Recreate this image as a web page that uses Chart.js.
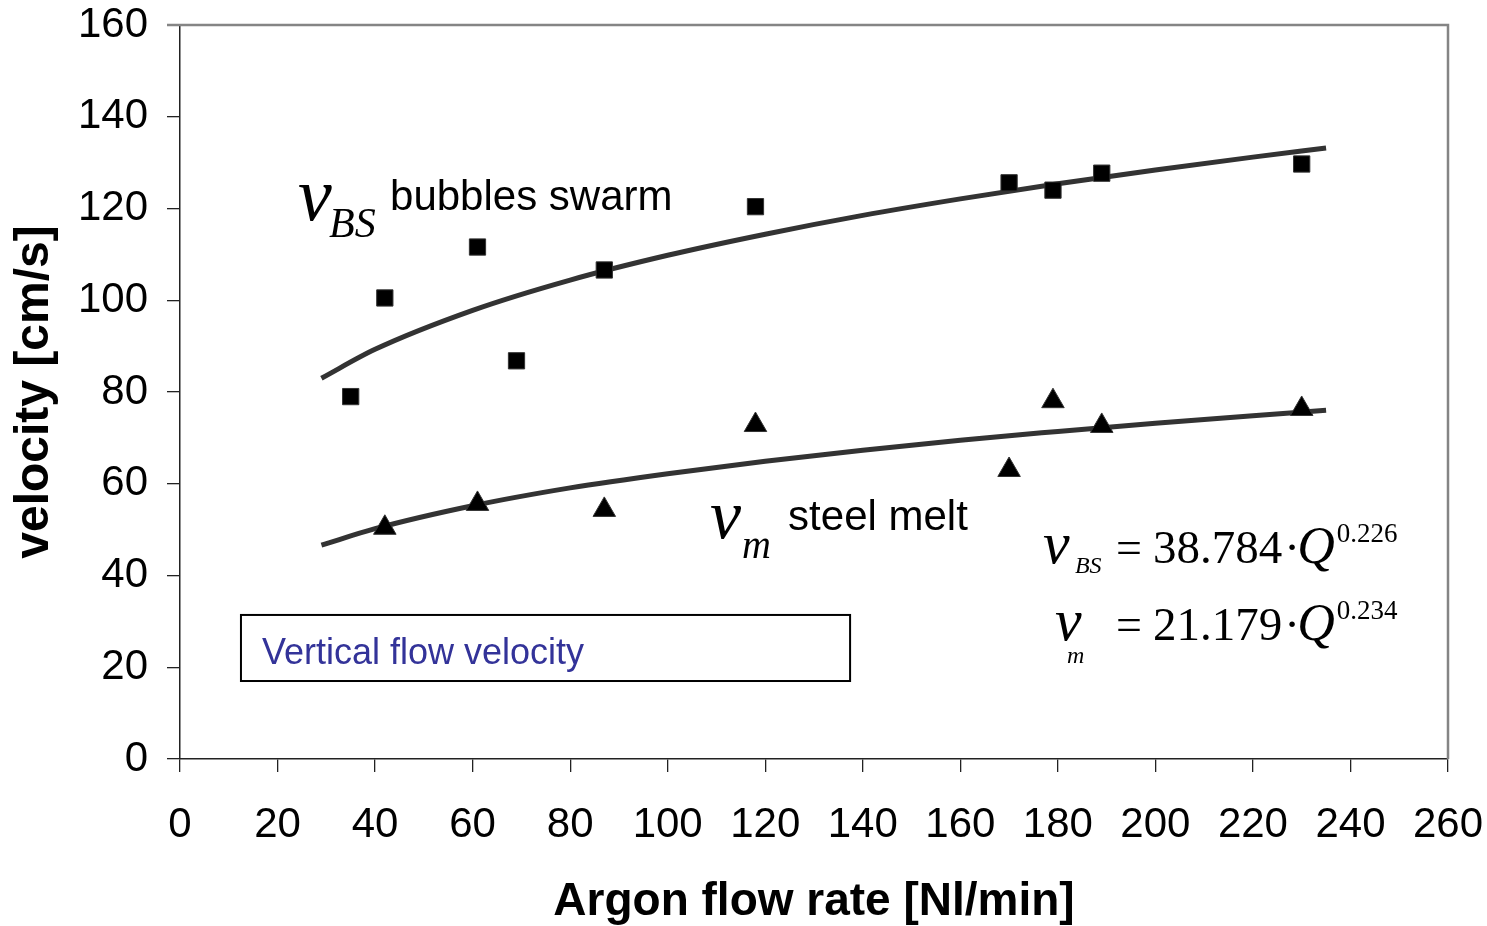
<!DOCTYPE html>
<html><head><meta charset="utf-8">
<script src="https://cdn.jsdelivr.net/npm/chart.js@4/dist/chart.umd.min.js"></script>
<style>html,body{margin:0;padding:0;background:#fff;overflow:hidden;}</style>
</head><body>
<canvas id="c" width="1487" height="926" style="width:1487px;height:926px;display:block"></canvas>
<script>
// ---- data ----
const flowBubbles = [35, 42, 61, 69, 87, 118, 170, 179, 189, 230];
const velBubbles  = [79.0, 100.5, 111.6, 86.8, 106.6, 120.4, 125.6, 124.0, 127.7, 129.7];
const flowMelt    = [42, 61, 87, 118, 170, 179, 189, 230];
const velMelt     = [50.4, 55.6, 54.3, 72.8, 63.0, 78.0, 72.6, 76.3];
const fitFlow     = [29, 40, 60, 80, 100, 120, 140, 160, 180, 200, 220, 235];
const fitBubbles  = [83.0, 89.3, 97.8, 104.4, 109.8, 114.4, 118.5, 122.1, 125.4, 128.4, 131.2, 133.2];
const fitMelt     = [46.6, 50.2, 55.2, 59.1, 62.2, 64.9, 67.3, 69.5, 71.4, 73.2, 74.8, 76.0];
const xTickValues = [0, 20, 40, 60, 80, 100, 120, 140, 160, 180, 200, 220, 240, 260];
const yTickValues = [0, 20, 40, 60, 80, 100, 120, 140, 160];
const xTitle = 'Argon flow rate [Nl/min]';
const yTitle = 'velocity [cm/s]';
const boxLabel = 'Vertical flow velocity';
const eqBubbles = {sub: 'BS', coef: '38.784', exp: '0.226'};
const eqMelt = {sub: 'm', coef: '21.179', exp: '0.234'};

const pts = (xs, ys) => xs.map((x, i) => ({x, y: ys[i]}));

const SANS = '"Liberation Sans", Arial, sans-serif';
const SERIF = '"Liberation Serif", "Times New Roman", serif';

const annotations = {
  id: 'annotations',
  afterDraw(chart) {
    const {ctx, chartArea: a, scales: {x, y}} = chart;
    ctx.save();
    // gray frame top & right
    ctx.strokeStyle = '#858585';
    ctx.lineWidth = 2.5;
    ctx.beginPath();
    ctx.moveTo(a.left - 13, a.top);
    ctx.lineTo(a.right, a.top);
    ctx.lineTo(a.right, a.bottom);
    ctx.stroke();

    const T = (txt, font, px, py, color) => {
      ctx.font = font; ctx.fillStyle = color || '#000';
      ctx.textAlign = 'left'; ctx.textBaseline = 'alphabetic';
      ctx.fillText(txt, px, py);
      return ctx.measureText(txt).width;
    };
    // v_BS bubbles swarm
    let ax = x.getPixelForValue(24.2), ay = y.getPixelForValue(117.5);
    T('v', 'italic 76px ' + SERIF, ax, ay);
    T('BS', 'italic 42px ' + SERIF, ax + 31, ay + 17);
    T('bubbles swarm', '42px ' + SANS, ax + 92, ay - 10);
    // v_m steel melt
    ax = x.getPixelForValue(108.7); ay = y.getPixelForValue(48.2);
    T('v', 'italic 70px ' + SERIF, ax, ay);
    T('m', 'italic 40px ' + SERIF, ax + 32, ay + 20);
    T('steel melt', '42px ' + SANS, ax + 78, ay - 8);
    // equations: anchored at the '=' sign
    const eq = (ex, ey, vdx, subDx, subDy, e) => {
      const px = x.getPixelForValue(ex), py = y.getPixelForValue(ey);
      T('v', 'italic 60px ' + SERIF, px + vdx, py);
      T(e.sub, 'italic 24px ' + SERIF, px + vdx + subDx, py + subDy);
      T('=', '46px ' + SERIF, px, py);
      const w = T(e.coef, '47px ' + SERIF, px + 37, py);
      T('\u00B7', '47px ' + SERIF, px + 37 + w + 2, py);
      const wq = T('Q', 'italic 52px ' + SERIF, px + 37 + w + 15, py);
      T(e.exp, '27px ' + SERIF, px + 37 + w + 15 + wq + 2, py - 21);
    };
    eq(191.9, 42.7, -73, 32, 10, eqBubbles);
    eq(191.9, 26.0, -61, 12, 23, eqMelt);
    // box
    const bx0 = x.getPixelForValue(12.5), bx1 = x.getPixelForValue(137.4);
    const by0 = y.getPixelForValue(31.4), by1 = y.getPixelForValue(17.0);
    ctx.strokeStyle = '#000'; ctx.lineWidth = 2;
    ctx.strokeRect(bx0, by0, bx1 - bx0, by1 - by0);
    T(boxLabel, '36px ' + SANS, x.getPixelForValue(16.8), y.getPixelForValue(20.7), '#333399');
    ctx.restore();
  }
};

new Chart(document.getElementById('c'), {
  type: 'scatter',
  data: {
    datasets: [
      {label: 'bubbles swarm', data: pts(flowBubbles, velBubbles), pointStyle: 'rect', pointRadius: 11.5,
       backgroundColor: '#000', borderColor: '#333', borderWidth: 1, showLine: false, order: 0},
      {label: 'steel melt', data: pts(flowMelt, velMelt), pointStyle: 'triangle', pointRadius: 13,
       backgroundColor: '#000', borderColor: '#333', borderWidth: 1, showLine: false, order: 1},
      {label: 'fit bubbles', type: 'line', data: pts(fitFlow, fitBubbles), borderColor: '#333',
       borderWidth: 5, pointRadius: 0, cubicInterpolationMode: 'monotone', fill: false, order: 2},
      {label: 'fit melt', type: 'line', data: pts(fitFlow, fitMelt), borderColor: '#333',
       borderWidth: 5, pointRadius: 0, cubicInterpolationMode: 'monotone', fill: false, order: 3}
    ]
  },
  options: {
    responsive: false,
    animation: false,
    devicePixelRatio: 1,
    layout: {padding: {top: 25, right: 39, left: 0, bottom: 0}},
    plugins: {legend: {display: false}, tooltip: {enabled: false}},
    scales: {
      x: {
        type: 'linear', min: 0, max: 260,
        afterBuildTicks: s => { s.ticks = xTickValues.map(v => ({value: v})); },
        afterFit: s => { s.height = 167; s.paddingLeft = 0; s.paddingRight = 0; },
        grid: {drawOnChartArea: false, drawTicks: true, tickLength: 13, color: '#222', lineWidth: 1.3},
        border: {display: true, color: '#222', width: 1.5},
        ticks: {font: {family: SANS, size: 42}, color: '#000', padding: 28, maxRotation: 0, autoSkip: false},
        title: {display: true, text: xTitle, font: {family: SANS, size: 46, weight: 'bold', lineHeight: 1}, color: '#000', padding: {top: 0, bottom: 1}}
      },
      y: {
        type: 'linear', min: 0, max: 160,
        afterBuildTicks: s => { s.ticks = yTickValues.map(v => ({value: v})); },
        afterFit: s => { s.width = 180; s.paddingTop = 0; s.paddingBottom = 0; },
        grid: {drawOnChartArea: false, drawTicks: true, tickLength: 13, color: '#222', lineWidth: 1.3},
        border: {display: true, color: '#222', width: 1.5},
        ticks: {font: {family: SANS, size: 42}, color: '#000', padding: 19, autoSkip: false},
        title: {display: true, text: yTitle, font: {family: SANS, size: 48, weight: 'bold', lineHeight: 1}, color: '#000', padding: {top: 11, bottom: 0}}
      }
    }
  },
  plugins: [annotations]
});
</script>
</body></html>
